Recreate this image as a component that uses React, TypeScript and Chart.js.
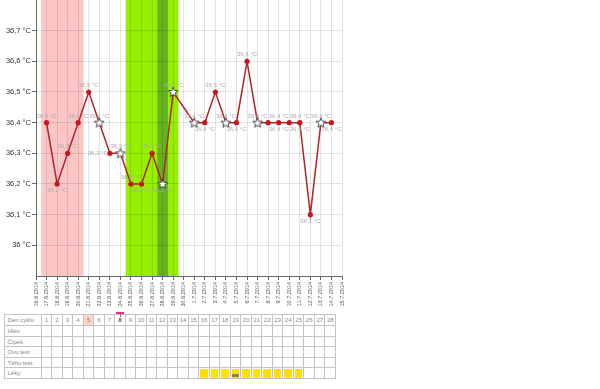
import React, { useEffect, useRef } from 'react';
import { Chart, registerables } from 'chart.js';

Chart.register(...registerables);

const FONT = "'Liberation Sans', Arial, sans-serif";

const dates = [
  '16.6.2014', '17.6.2014', '18.6.2014', '19.6.2014', '20.6.2014', '21.6.2014',
  '22.6.2014', '23.6.2014', '24.6.2014', '25.6.2014', '26.6.2014', '27.6.2014',
  '28.6.2014', '29.6.2014', '30.6.2014', '1.7.2014', '2.7.2014', '3.7.2014',
  '4.7.2014', '5.7.2014', '6.7.2014', '7.7.2014', '8.7.2014', '9.7.2014',
  '10.7.2014', '11.7.2014', '12.7.2014', '13.7.2014', '14.7.2014', '15.7.2014',
];

const temperatures: (number | null)[] = [
  null, 36.4, 36.2, 36.3, 36.4, 36.5,
  36.4, 36.3, 36.3, 36.2, 36.2, 36.3,
  36.2, 36.5, null, 36.4, 36.4, 36.5,
  36.4, 36.4, 36.6, 36.4, 36.4, 36.4,
  36.4, 36.4, 36.1, 36.4, 36.4, null,
];

const starDays = ['22.6.2014', '24.6.2014', '28.6.2014', '29.6.2014', '1.7.2014', '4.7.2014', '7.7.2014', '13.7.2014'];

// label placement: t = above, b = below, l = left, br = below, shifted right
const labelPlacement = [
  '', 't', 'b', 't', 't', 't',
  't', 'l', 't', 't', 'b', 't',
  'b', 't', '', 't', 'b', 't',
  't', 'b', 't', 't', 'br', 't',
  'br', 't', 'b', 't', 'b', '',
];

const yTickValues = [36.0, 36.1, 36.2, 36.3, 36.4, 36.5, 36.6, 36.7];
const yMin = 35.9;
const yMax = 36.8;

const periodRange = ['17.6.2014', '20.6.2014'];
const fertileRange = ['25.6.2014', '29.6.2014'];
const ovulationRange = ['28.6.2014', '28.6.2014'];

const tableRows = ['Den cyklu', 'Hlen', 'Čípek', 'Ovu test', 'Těhu test', 'Léky'];
const cycleDays = [1, 2, 3, 4, 5, 6, 7, 8, 9, 10, 11, 12, 13, 14, 15, 16, 17, 18, 19, 20, 21, 22, 23, 24, 25, 26, 27, 28];
const periodMarkDay = 5;
const testMarkDay = 8;
const medicationDays = [16, 17, 18, 19, 20, 21, 22, 23, 24, 25];
const medicationSpecialDay = 19;

const fmt = (v: number) => v.toFixed(1).replace('.0', '').replace('.', ',') + ' °C';
const fmtLabel = (v: number) => v.toFixed(1).replace('.', ',') + ' °C';

function makeStar(): HTMLCanvasElement {
  const c = document.createElement('canvas');
  c.width = 12;
  c.height = 12;
  const g = c.getContext('2d')!;
  const cx = 6, cy = 6.3, R = 5.2, r = 2.2;
  g.beginPath();
  for (let k = 0; k < 10; k++) {
    const rad = k % 2 === 0 ? R : r;
    const a = -Math.PI / 2 + (k * Math.PI) / 5;
    const px = cx + rad * Math.cos(a);
    const py = cy + rad * Math.sin(a);
    if (k === 0) g.moveTo(px, py); else g.lineTo(px, py);
  }
  g.closePath();
  g.fillStyle = '#ffffff';
  g.fill();
  g.strokeStyle = '#3a3a3a';
  g.lineWidth = 0.9;
  g.stroke();
  return c;
}

const bandsPlugin = {
  id: 'bands',
  beforeDraw(chart: any) {
    const { ctx, chartArea, scales } = chart;
    const x = scales.x;
    const half = (x.getPixelForValue(1) - x.getPixelForValue(0)) / 2;
    const band = (range: string[], color: string) => {
      const i0 = dates.indexOf(range[0]);
      const i1 = dates.indexOf(range[1]);
      const x0 = x.getPixelForValue(i0) - half;
      const x1 = x.getPixelForValue(i1) + half;
      ctx.save();
      ctx.fillStyle = color;
      ctx.fillRect(x0, chartArea.top, x1 - x0, chartArea.bottom - chartArea.top);
      ctx.restore();
    };
    band(periodRange, '#fdc6c6');
    band(fertileRange, '#96f000');
    band(ovulationRange, '#64b21e');
  },
};

const labelsPlugin = {
  id: 'pointLabels',
  afterDatasetsDraw(chart: any) {
    const { ctx, scales } = chart;
    const x = scales.x, y = scales.y;
    const step = x.getPixelForValue(1) - x.getPixelForValue(0);
    ctx.save();
    ctx.font = `6px ${FONT}`;
    ctx.fillStyle = '#aaaaaa';
    ctx.textBaseline = 'middle';
    temperatures.forEach((v, i) => {
      if (v == null) return;
      const px = x.getPixelForValue(i);
      const py = y.getPixelForValue(v);
      const p = labelPlacement[i];
      const t = fmtLabel(v);
      if (p === 'l') {
        ctx.textAlign = 'right';
        ctx.fillText(t, px - 2, py);
      } else if (p === 'b') {
        ctx.textAlign = 'center';
        ctx.fillText(t, px, py + 6.5);
      } else if (p === 'br') {
        ctx.textAlign = 'center';
        ctx.fillText(t, px + step, py + 6.5);
      } else {
        ctx.textAlign = 'center';
        ctx.fillText(t, px, py - 6.5);
      }
    });
    ctx.restore();
  },
};

function CycleTable() {
  const border = '1px solid #c4c4c4';
  const cells: React.ReactNode[] = [];
  tableRows.forEach((row, r) => {
    cells.push(
      <div key={`l${r}`} style={{ borderRight: border, borderBottom: border, boxSizing: 'border-box', fontSize: 6, color: '#888', paddingLeft: 2.5, lineHeight: '10px', whiteSpace: 'nowrap', overflow: 'hidden' }}>
        {row}
      </div>
    );
    cycleDays.forEach((d) => {
      let content: React.ReactNode = null;
      let bg = '#fff';
      if (r === 0) {
        if (d === periodMarkDay) bg = '#fbd5c8';
        content = (
          <span style={{ color: d === testMarkDay ? '#555' : '#888', fontWeight: d === testMarkDay ? 'bold' : 'normal' }}>{d}</span>
        );
      }
      const isMed = r === 5 && medicationDays.includes(d);
      cells.push(
        <div key={`c${r}-${d}`} style={{ position: 'relative', borderRight: border, borderBottom: border, boxSizing: 'border-box', background: bg, fontSize: 6, textAlign: 'center', lineHeight: '10px', overflow: 'visible' }}>
          {content}
          {r === 0 && d === testMarkDay && (
            <>
              <div style={{ position: 'absolute', left: 1, right: 1, top: -3, height: 2, background: '#e0307f' }} />
              <div style={{ position: 'absolute', left: 4.5, width: 1, top: -1, height: 3, background: '#e0307f' }} />
            </>
          )}
          {isMed && <div style={{ position: 'absolute', left: 1, right: 1, top: 1, bottom: 0, background: '#ffe000' }} />}
          {isMed && d === medicationSpecialDay && (
            <div style={{ position: 'absolute', left: 1.5, width: 7, bottom: 1.5, height: 3, background: '#8b8a36' }} />
          )}
        </div>
      );
    });
  });
  return (
    <div
      style={{
        position: 'absolute', left: 4, top: 314, width: 332, height: 65,
        display: 'grid', gridTemplateColumns: '36.7px repeat(28, 1fr)', gridTemplateRows: 'repeat(6, 1fr)',
        borderTop: border, borderLeft: border, boxSizing: 'border-box', fontFamily: FONT,
      }}
    >
      {cells}
    </div>
  );
}

export default function App() {
  const canvasRef = useRef<HTMLCanvasElement | null>(null);

  useEffect(() => {
    document.body.style.margin = '0';
    const star = makeStar();
    const chart = new Chart(canvasRef.current!, {
      type: 'line',
      data: {
        labels: dates,
        datasets: [
          {
            data: temperatures,
            borderColor: '#b3222a',
            borderWidth: 1.5,
            spanGaps: true,
            pointStyle: (ctx: any) => (starDays.includes(dates[ctx.dataIndex]) ? star : 'circle'),
            pointRadius: 2.6,
            pointBackgroundColor: '#c8161e',
            pointBorderColor: '#c8161e',
            pointBorderWidth: 0,
            segment: {
              borderColor: (ctx: any) => (ctx.p1DataIndex - ctx.p0DataIndex > 1 ? '#a0a0a0' : undefined),
              borderWidth: (ctx: any) => (ctx.p1DataIndex - ctx.p0DataIndex > 1 ? 0.8 : undefined),
            },
          } as any,
        ],
      },
      options: {
        animation: false,
        responsive: false,
        events: [],
        layout: { autoPadding: false, padding: { left: 0, right: 6, top: 0, bottom: 0 } },
        plugins: { legend: { display: false }, tooltip: { enabled: false } },
        scales: {
          x: {
            type: 'category',
            offset: false,
            ticks: { autoSkip: false, minRotation: 90, maxRotation: 90, font: { size: 5.5, family: FONT }, color: '#555', padding: 2 },
            grid: { color: 'rgba(0,0,0,0.11)', tickColor: '#666', tickLength: 4 },
            border: { color: '#666' },
            afterFit: (s: any) => { s.height = 34; s.paddingLeft = 0; s.paddingRight = 0; },
          },
          y: {
            min: yMin,
            max: yMax,
            afterBuildTicks: (s: any) => { s.ticks = yTickValues.map((v) => ({ value: v })); },
            ticks: { callback: (v: any) => fmt(Number(v)), font: { size: 7.5, family: FONT }, color: '#333', padding: 1 },
            grid: { color: 'rgba(0,0,0,0.11)', tickColor: '#666', tickLength: 4 },
            border: { color: '#666' },
            afterFit: (s: any) => { s.width = 36; s.paddingTop = 0; s.paddingBottom = 0; },
          },
        },
      } as any,
      plugins: [bandsPlugin, labelsPlugin],
    });
    return () => chart.destroy();
  }, []);

  return (
    <div style={{ position: 'relative', width: 600, height: 389, background: '#fff', fontFamily: FONT }}>
      <canvas ref={canvasRef} width={348} height={310} style={{ position: 'absolute', left: 0, top: 0 }} />
      <CycleTable />
    </div>
  );
}
